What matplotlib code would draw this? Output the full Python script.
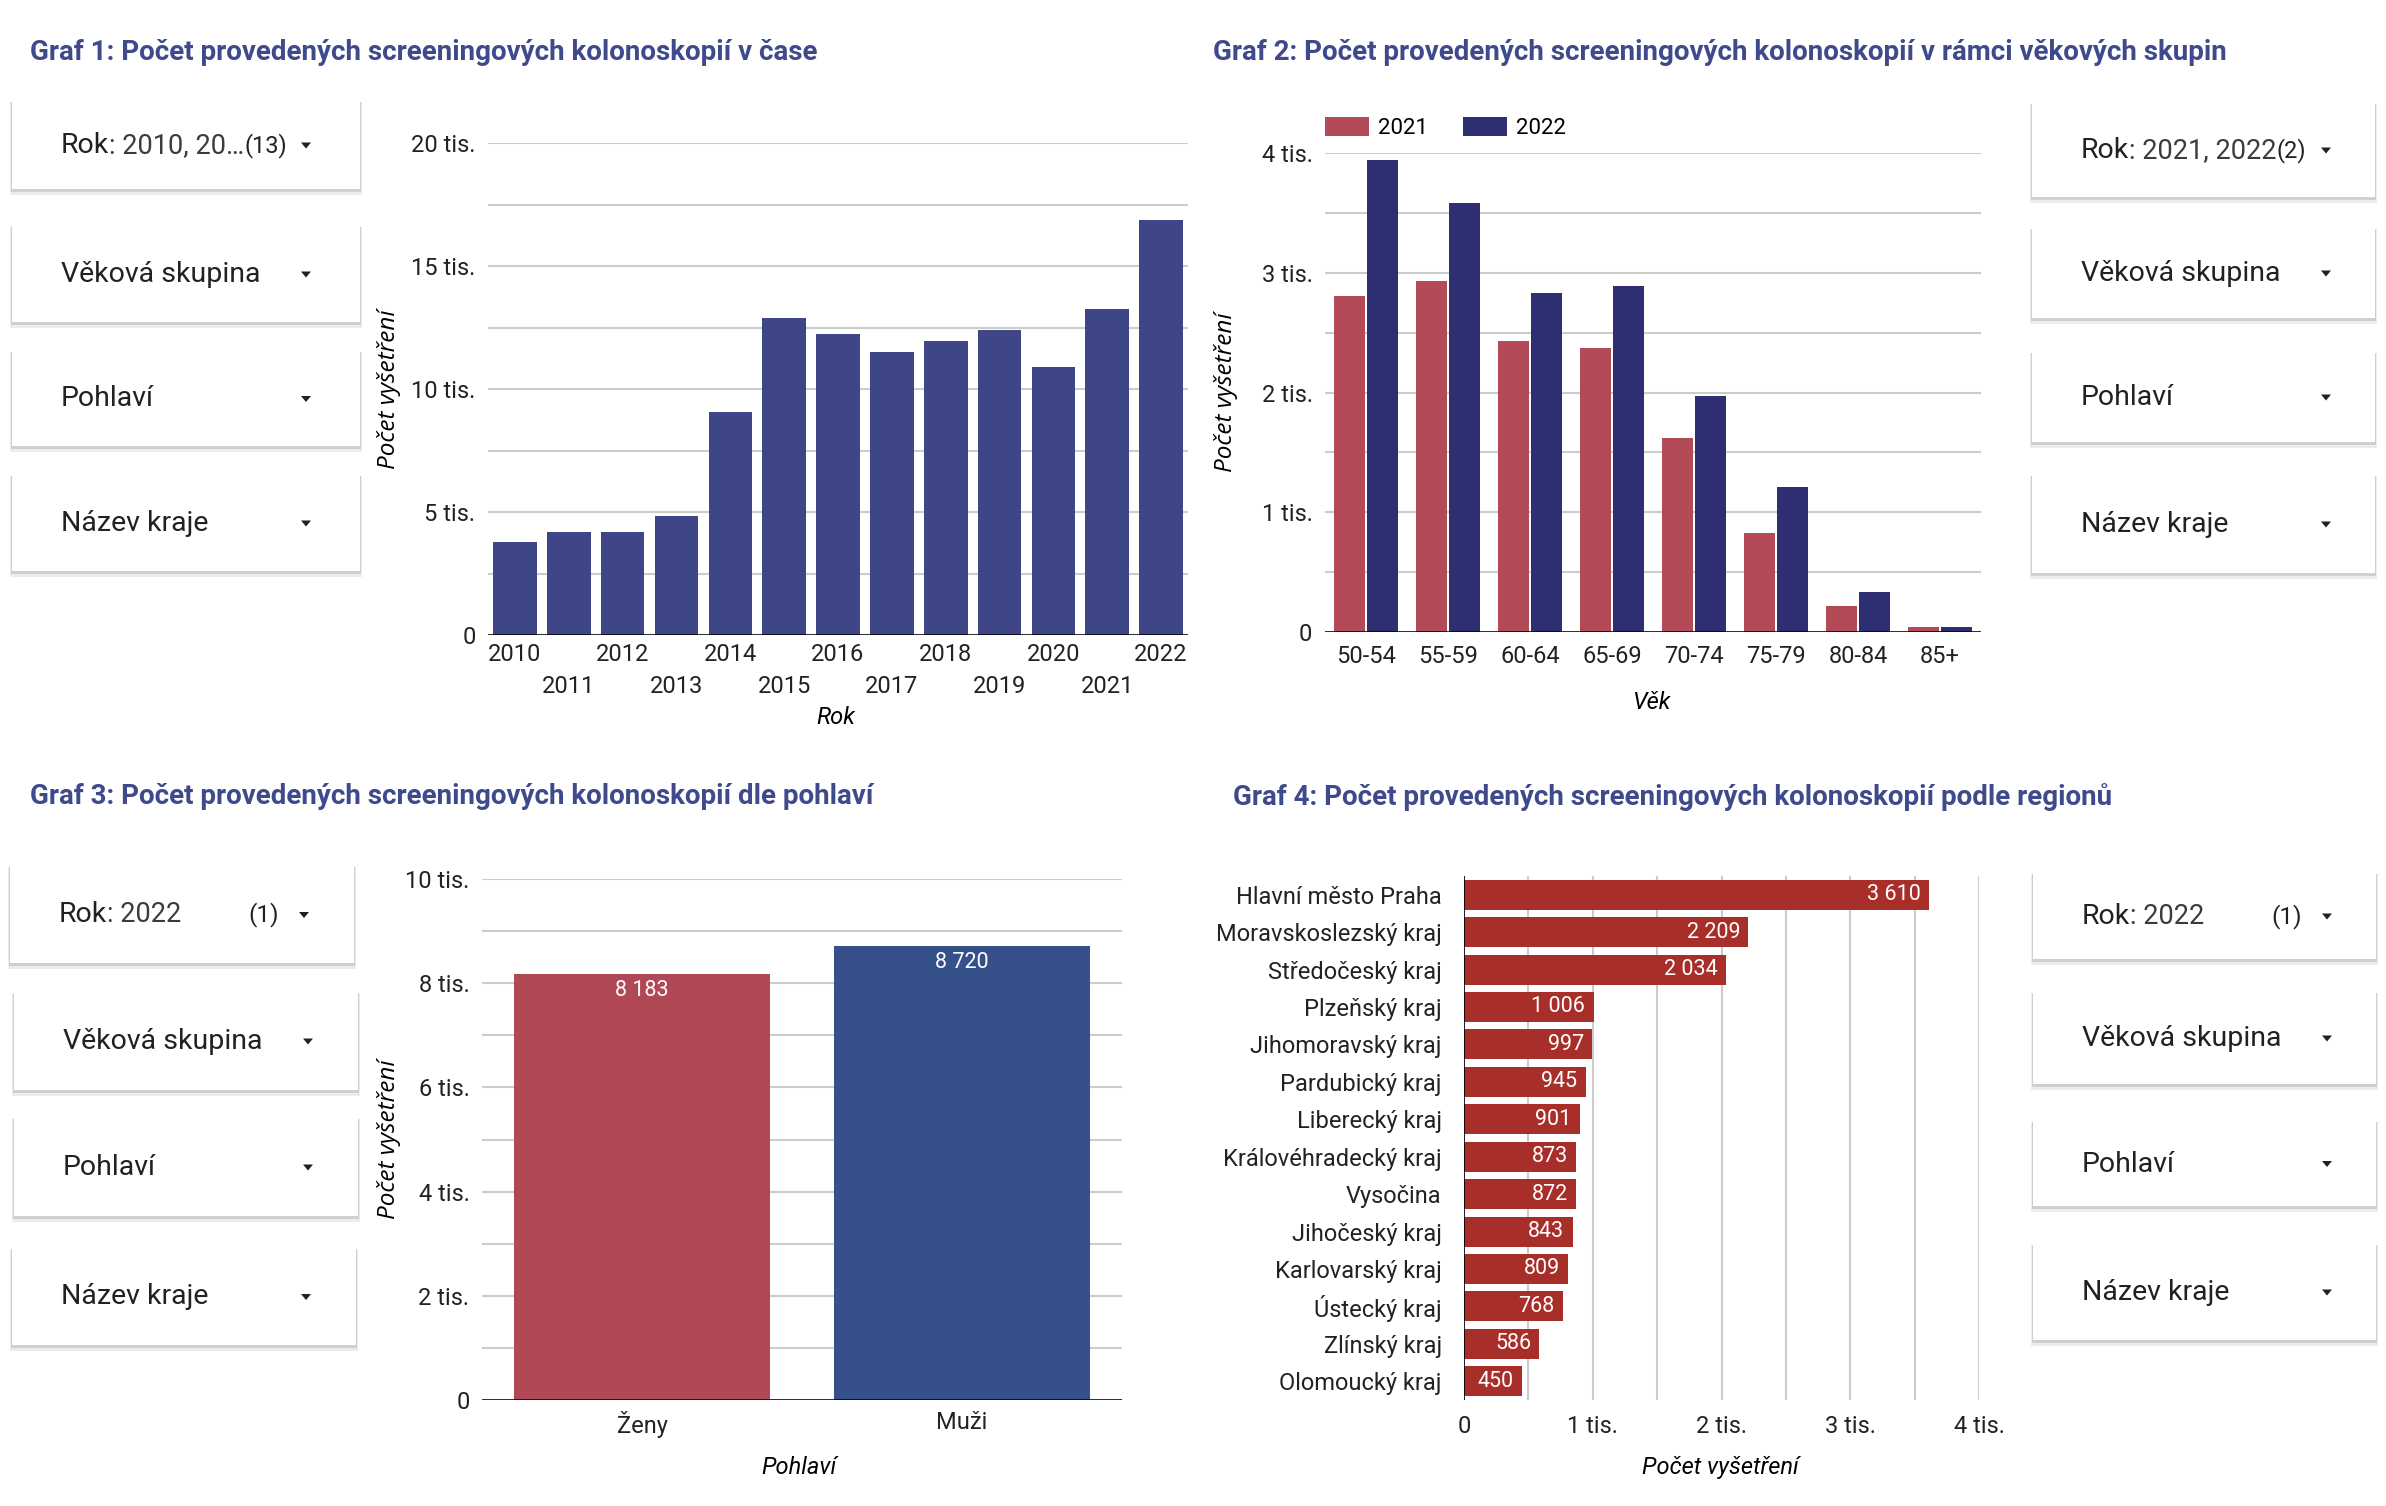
import numpy as np
import matplotlib
matplotlib.use("Agg")
import matplotlib.pyplot as plt
from matplotlib.patches import Rectangle, Polygon
from matplotlib.text import Annotation

# --- data -------------------------------------------------------------
years = [2010, 2011, 2012, 2013, 2014, 2015, 2016, 2017, 2018, 2019, 2020, 2021, 2022]
exams_by_year = [3780, 4170, 4170, 4830, 9050, 12870, 12230, 11500, 11960, 12390, 10910, 13260, 16850]

age_groups = ["50-54", "55-59", "60-64", "65-69", "70-74", "75-79", "80-84", "85+"]
exams_2021 = [2810, 2930, 2430, 2370, 1620, 830, 220, 40]
exams_2022 = [3940, 3580, 2830, 2890, 1970, 1210, 330, 40]

sexes = ["Ženy", "Muži"]
exams_by_sex = [8183, 8720]

regions = ["Hlavní město Praha", "Moravskoslezský kraj", "Středočeský kraj", "Plzeňský kraj",
           "Jihomoravský kraj", "Pardubický kraj", "Liberecký kraj", "Královéhradecký kraj",
           "Vysočina", "Jihočeský kraj", "Karlovarský kraj", "Ústecký kraj", "Zlínský kraj",
           "Olomoucký kraj"]
exams_by_region = [3610, 2209, 2034, 1006, 997, 945, 901, 873, 872, 843, 809, 768, 586, 450]

# --- style ------------------------------------------------------------
plt.rcParams["font.family"] = ["Roboto", "DejaVu Sans"]
W, H = 2386, 1506
TITLE_C = "#3f4a8c"
GRID_C = "#cccccc"
TICK_FS = 17
TITLE_FS = 20
YLAB = dict(fontsize=17.5, fontstyle="italic", family=["Open Sans", "DejaVu Sans"])
XLAB = dict(fontsize=17, fontstyle="italic")

fig = plt.figure(figsize=(W / 100, H / 100), dpi=100)
fig.patch.set_facecolor("white")


def add_ax(l, t, r, b):
    return fig.add_axes([l / W, 1 - b / H, (r - l) / W, (b - t) / H])


def tis(v):
    return "0" if v == 0 else f"{int(v / 1000)} tis."


def space_num(v):
    return f"{v:,}".replace(",", " ")


def add_annot(text, anchor, xy, **kw):
    a = Annotation(text, xy=xy, xycoords=anchor, zorder=4, **kw)
    a.set_figure(fig)
    fig.texts.append(a)
    return a


def dropdown(x0, y0, x1, y1, label, value=None, count=None, chain=True):
    # shadow + white card
    fig.patches.append(Rectangle((x0 - 2, H - y1 - 6), x1 - x0 + 4, y1 - y0 + 6,
                                 transform=None, facecolor="#ececec", edgecolor="none", zorder=1))
    fig.patches.append(Rectangle((x0 - 1, H - y1 - 3), x1 - x0 + 2, y1 - y0 + 3,
                                 transform=None, facecolor="#cfcfcf", edgecolor="none", zorder=2))
    fig.patches.append(Rectangle((x0, H - y1), x1 - x0, y1 - y0,
                                 transform=None, facecolor="white", edgecolor="none", zorder=3))
    cy = (y0 + y1) / 2
    t = fig.text((x0 + 49) / W, 1 - cy / H, label, fontsize=20.5, color="#202124",
                 va="center", ha="left", zorder=4)
    last = t
    if value is not None:
        last = add_annot(value, t, (1, 0), fontsize=19.5, color="#3c3c3c",
                         va="bottom", ha="left")
    if count is not None:
        if chain:
            add_annot(count, last, (1, 0.5), fontsize=17, color="#202124",
                      va="center", ha="left")
        else:
            fig.text((x0 + 269) / W, 1 - cy / H, count, fontsize=17.5, color="#202124",
                     va="center", ha="right", zorder=4)
    ax_ = x0 + 294
    tri = Polygon([(ax_ - 5, H - cy + 3), (ax_ + 5, H - cy + 3), (ax_, H - cy - 3)],
                  closed=True, transform=None, facecolor="#202124", edgecolor="none", zorder=4)
    fig.patches.append(tri)


def base_style(ax):
    for s in ax.spines.values():
        s.set_visible(False)
    ax.tick_params(length=0, labelsize=TICK_FS, colors="#222222")
    ax.set_axisbelow(True)


# --- Graf 1 -----------------------------------------------------------
fig.text(30 / W, 1 - 53 / H, "Graf 1: Počet provedených screeningových kolonoskopií v čase",
         fontsize=TITLE_FS, fontweight="bold", color=TITLE_C, va="center", ha="left")
ax1 = add_ax(488, 143, 1188, 635)
x1 = np.arange(len(years))
ax1.bar(x1, exams_by_year, width=0.81, color="#3f4685", zorder=3)
ax1.set_xlim(-0.5, len(years) - 0.5)
ax1.set_ylim(0, 20000)
y_ticks1 = np.arange(0, 20001, 2500)
ax1.set_yticks(y_ticks1)
ax1.set_yticklabels([tis(v) if v % 5000 == 0 else "" for v in y_ticks1])
ax1.set_xticks(x1)
ax1.set_xticklabels([str(y) if i % 2 == 0 else "\n" + str(y) for i, y in enumerate(years)],
                    linespacing=1.5)
base_style(ax1)
ax1.tick_params(axis="y", pad=9)
ax1.tick_params(axis="x", pad=6)
ax1.grid(axis="y", color=GRID_C, linewidth=1.5)
ax1.axhline(0, color="black", linewidth=1.8, zorder=4)
ax1.set_ylabel("Počet vyšetření", **YLAB)
ax1.yaxis.set_label_coords((401 - 488) / 700, 0.5)
ax1.set_xlabel("Rok", **XLAB)
ax1.xaxis.set_label_coords(0.497, -(706 - 635) / 492)

dropdown(12, 102, 360, 189, "Rok", ": 2010, 20…", "(13)")
dropdown(12, 227, 360, 322, "Věková skupina")
dropdown(12, 352, 360, 446, "Pohlaví")
dropdown(12, 476, 360, 571, "Název kraje")

# --- Graf 2 -----------------------------------------------------------
fig.text(1213 / W, 1 - 53 / H,
         "Graf 2: Počet provedených screeningových kolonoskopií v rámci věkových skupin",
         fontsize=TITLE_FS, fontweight="bold", color=TITLE_C, va="center", ha="left")
ax2 = add_ax(1325, 153, 1981, 632)
x2 = np.arange(len(age_groups))
ax2.bar(x2 - 0.2, exams_2021, width=0.38, color="#b24a58", label="2021", zorder=3)
ax2.bar(x2 + 0.2, exams_2022, width=0.38, color="#2d2f70", label="2022", zorder=3)
ax2.set_xlim(-0.5, len(age_groups) - 0.5)
ax2.set_ylim(0, 4000)
y_ticks2 = np.arange(0, 4001, 500)
ax2.set_yticks(y_ticks2)
ax2.set_yticklabels([tis(v) if v % 1000 == 0 else "" for v in y_ticks2])
ax2.set_xticks(x2)
ax2.set_xticklabels(age_groups)
base_style(ax2)
ax2.tick_params(axis="y", pad=9)
ax2.tick_params(axis="x", pad=9)
ax2.grid(axis="y", color=GRID_C, linewidth=1.5)
ax2.axhline(0, color="black", linewidth=1.8, zorder=4)
ax2.set_ylabel("Počet vyšetření", **YLAB)
ax2.yaxis.set_label_coords((1238 - 1325) / 656, 0.5)
ax2.set_xlabel("Věk", **XLAB)
ax2.xaxis.set_label_coords((1651 - 1325) / 656, -(691 - 632) / 479)
ax2.legend(loc="lower left", bbox_to_anchor=(0, 1.029), ncol=2, frameon=False,
           fontsize=16, handlelength=1.98, handleheight=1.0, handletextpad=0.4,
           columnspacing=1.6, borderaxespad=0, borderpad=0)

dropdown(2032, 104, 2375, 197, "Rok", ": 2021, 2022", "(2)")
dropdown(2032, 229, 2375, 318, "Věková skupina")
dropdown(2032, 353, 2375, 442, "Pohlaví")
dropdown(2032, 476, 2375, 573, "Název kraje")

# --- Graf 3 -----------------------------------------------------------
fig.text(30 / W, 1 - 797 / H, "Graf 3: Počet provedených screeningových kolonoskopií dle pohlaví",
         fontsize=TITLE_FS, fontweight="bold", color=TITLE_C, va="center", ha="left")
ax3 = add_ax(482, 879, 1122, 1400)
x3 = np.arange(len(sexes))
ax3.bar(x3, exams_by_sex, width=0.8, color=["#b14856", "#365089"], zorder=3)
for xi, v in zip(x3, exams_by_sex):
    ax3.annotate(space_num(v), (xi, v), xytext=(0, -12), textcoords="offset points",
                 ha="center", va="center", color="white", fontsize=15.5, zorder=5)
ax3.set_xlim(-0.5, 1.5)
ax3.set_ylim(0, 10000)
y_ticks3 = np.arange(0, 10001, 1000)
ax3.set_yticks(y_ticks3)
ax3.set_yticklabels([tis(v) if v % 2000 == 0 else "" for v in y_ticks3])
ax3.set_xticks(x3)
ax3.set_xticklabels(sexes)
base_style(ax3)
ax3.tick_params(axis="y", pad=9)
ax3.tick_params(axis="x", pad=8)
ax3.grid(axis="y", color=GRID_C, linewidth=1.5)
ax3.axhline(0, color="black", linewidth=1.8, zorder=4)
ax3.set_ylabel("Počet vyšetření", **YLAB)
ax3.yaxis.set_label_coords((401 - 482) / 640, 0.5)
ax3.set_xlabel("Pohlaví", **XLAB)
ax3.xaxis.set_label_coords((799 - 482) / 640, -(1456 - 1400) / 521)

dropdown(10, 867, 354, 963, "Rok", ": 2022", "(1)", chain=False)
dropdown(14, 993, 358, 1090, "Věková skupina")
dropdown(14, 1119, 358, 1216, "Pohlaví")
dropdown(12, 1249, 356, 1345, "Název kraje")

# --- Graf 4 -----------------------------------------------------------
fig.text(1233 / W, 1 - 797 / H, "Graf 4: Počet provedených screeningových kolonoskopií podle regionů",
         fontsize=TITLE_FS, fontweight="bold", color=TITLE_C, va="center", ha="left")
ax4 = add_ax(1464, 876, 1979, 1400)
y4 = np.arange(len(regions))
ax4.barh(y4, exams_by_region, height=0.8, color="#a82e2a", zorder=3)
for yi, v in zip(y4, exams_by_region):
    ax4.annotate(space_num(v), (v, yi), xytext=(-6, 0), textcoords="offset points",
                 ha="right", va="center", color="white", fontsize=15.5, zorder=5)
ax4.set_ylim(len(regions) - 0.5, -0.5)
ax4.set_xlim(0, 4000)
x_ticks4 = np.arange(0, 4001, 500)
ax4.set_xticks(x_ticks4)
ax4.set_xticklabels([tis(v) if v % 1000 == 0 else "" for v in x_ticks4])
ax4.set_yticks(y4)
ax4.set_yticklabels(regions)
base_style(ax4)
ax4.tick_params(axis="y", pad=16)
ax4.tick_params(axis="x", pad=11)
ax4.grid(axis="x", color=GRID_C, linewidth=1.5)
ax4.axvline(0, color="black", linewidth=1.2, zorder=4)
ax4.set_xlabel("Počet vyšetření", **XLAB)
ax4.xaxis.set_label_coords((1720 - 1464) / 515, -(1456 - 1400) / 524)

dropdown(2033, 874, 2376, 959, "Rok", ": 2022", "(1)", chain=False)
dropdown(2033, 993, 2376, 1084, "Věková skupina")
dropdown(2033, 1122, 2376, 1206, "Pohlaví")
dropdown(2033, 1245, 2376, 1340, "Název kraje")

fig.savefig("out.png", dpi=100, facecolor="white")
